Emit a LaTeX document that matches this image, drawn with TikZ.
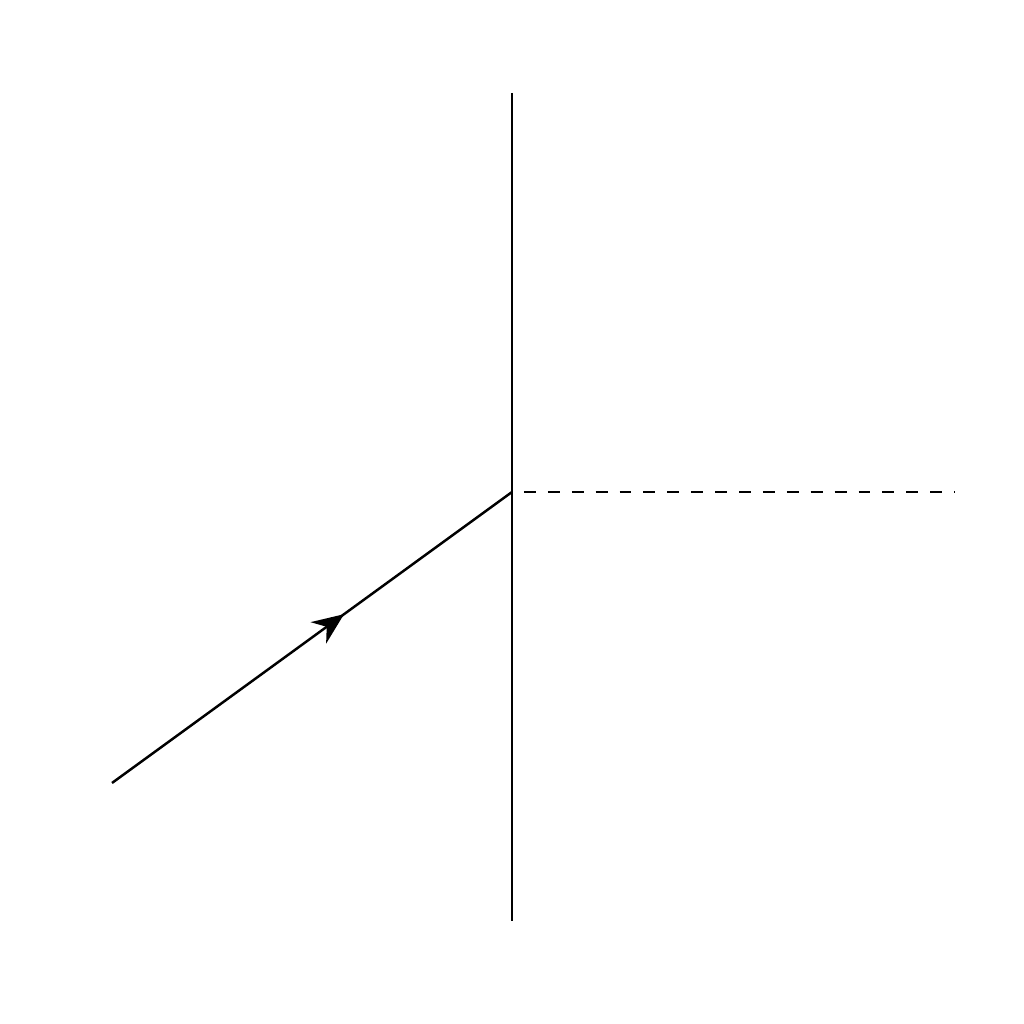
\documentclass[tikz,border=0pt]{standalone}
\usetikzlibrary{arrows.meta,decorations.markings}

\begin{document}
\begin{tikzpicture}
\tikzstyle{ray}=[line width=0.7pt,postaction={decorate},
  decoration={markings,mark=at position 0.58 with {\arrow{Stealth[length=9pt,width=7.5pt]}}}]
\tikzstyle{wall}=[line width=0.7pt]
\tikzstyle{normal}=[line width=0.7pt,dash pattern=on 3.4pt off 3.4pt,dash phase=3.4pt]

\useasboundingbox (0,0) rectangle (10.24,10.24);

%mirror line.
\coordinate (top) at (5.12,9.31);
\coordinate (bottom) at (5.12,1.03);
\draw[wall] (top) -- (bottom);

%incidence point and normal.
\coordinate (hit) at (5.12,5.32);
\coordinate (normal_end) at (9.55,5.32);
\draw[normal] (hit) -- (normal_end);

%incoming ray.
\coordinate (source) at (1.12,2.41);
\draw[ray] (source) -- (hit);

\end{tikzpicture}
\end{document}
